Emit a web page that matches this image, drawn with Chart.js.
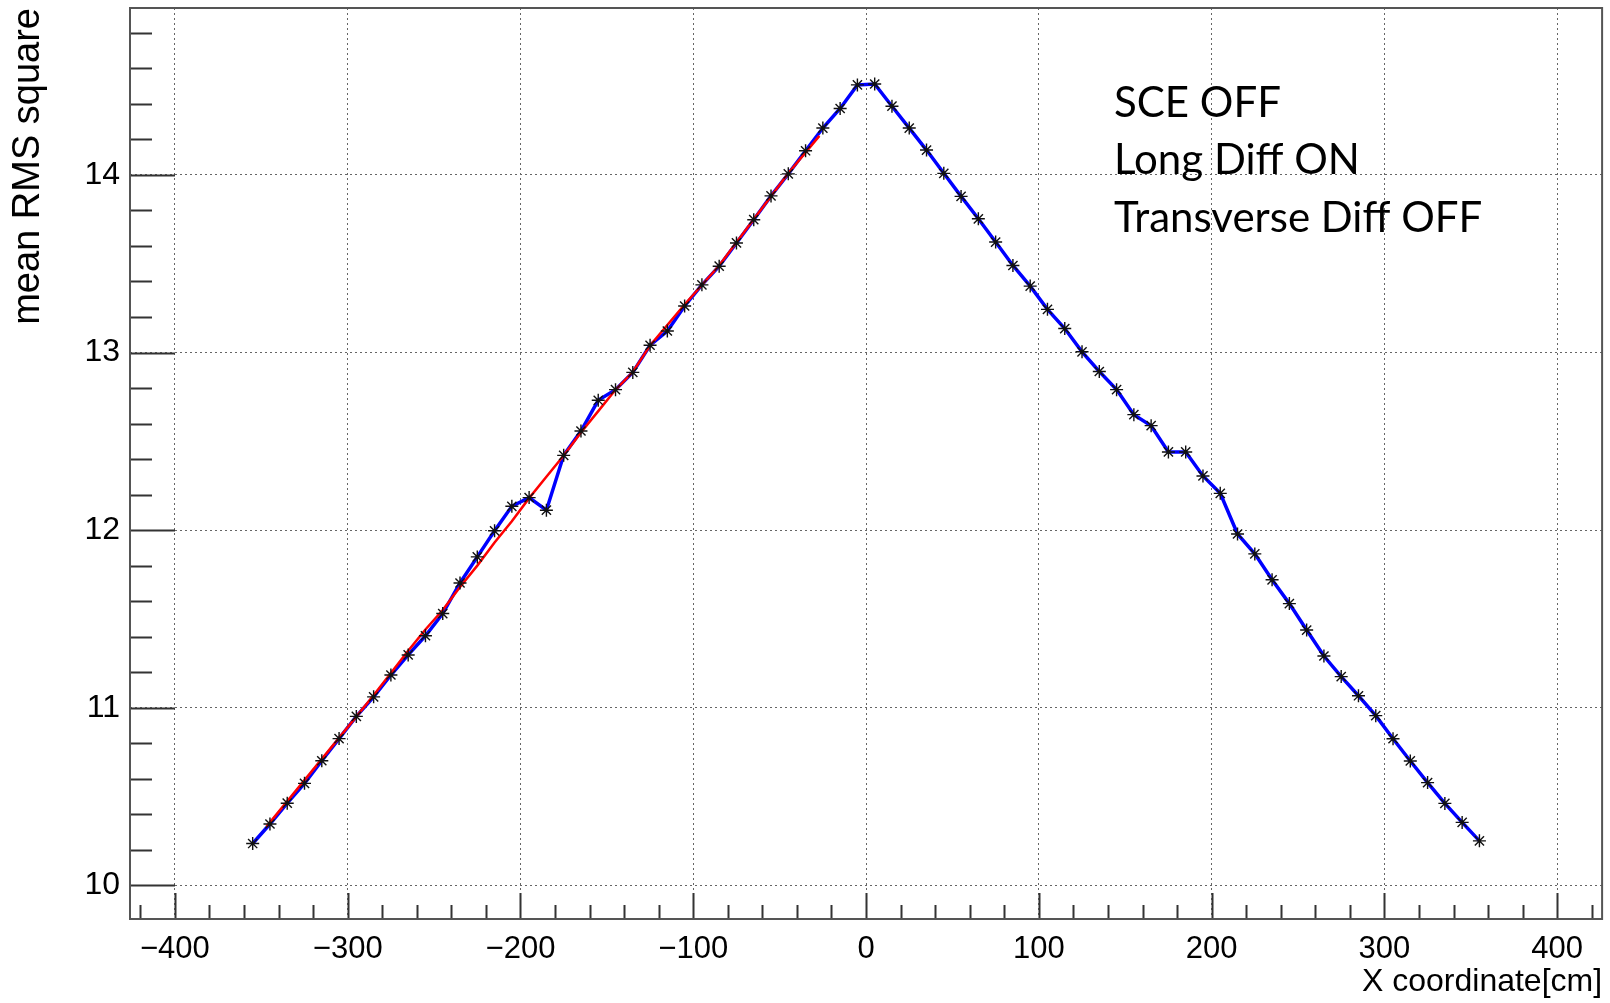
<!DOCTYPE html>
<html>
<head>
<meta charset="utf-8">
<script src="https://cdn.jsdelivr.net/npm/chart.js@4.4.1/dist/chart.umd.min.js"></script>
<style>
  html, body { margin: 0; padding: 0; background: #fff; }
  #chart { display: block; }
</style>
</head>
<body>
<canvas id="chart" width="1610" height="1003"></canvas>
<script>
// measured points (blue, with markers)
const xPositions = [
  -355, -345, -335, -325, -315, -305, -295, -285, -275, -265, -255, -245,
  -235, -225, -215, -205, -195, -185, -175, -165, -155, -145, -135, -125,
  -115, -105, -95, -85, -75, -65, -55, -45, -35, -25, -15, -5,
  5, 15, 25, 35, 45, 55, 65, 75, 85, 95, 105, 115,
  125, 135, 145, 155, 165, 175, 185, 195, 205, 215, 225, 235,
  245, 255, 265, 275, 285, 295, 305, 315, 325, 335, 345, 355
];
const rmsValues = [
  10.235, 10.345, 10.462, 10.574, 10.701, 10.826, 10.951, 11.061, 11.184, 11.297, 11.405, 11.530,
  11.702, 11.849, 11.996, 12.134, 12.183, 12.112, 12.421, 12.558, 12.731, 12.791, 12.888, 13.041,
  13.121, 13.262, 13.381, 13.486, 13.617, 13.748, 13.882, 14.006, 14.136, 14.264, 14.374, 14.507,
  14.512, 14.387, 14.264, 14.140, 14.009, 13.879, 13.753, 13.622, 13.490, 13.374, 13.243, 13.135,
  13.004, 12.893, 12.791, 12.650, 12.588, 12.440, 12.440, 12.305, 12.207, 11.978, 11.866, 11.720,
  11.586, 11.437, 11.291, 11.175, 11.067, 10.955, 10.825, 10.700, 10.578, 10.461, 10.354, 10.250
];

// red reference curve (left half only)
const fitX = [-347, -305, -285, -265, -255, -245, -235, -225, -215, -205, -195, -185,
  -175, -165, -155, -145, -135, -125, -105, -85, -65, -45, -27];
const fitValues = [10.33, 10.83, 11.07, 11.32, 11.44, 11.55, 11.68, 11.80, 11.93, 12.05, 12.18, 12.30,
  12.42, 12.55, 12.67, 12.79, 12.89, 13.04, 13.27, 13.49, 13.75, 14.01, 14.22];

const xTickValues = [-400, -300, -200, -100, 0, 100, 200, 300, 400];
const xTickLabels = ['\u2212400', '\u2212300', '\u2212200', '\u2212100', '0', '100', '200', '300', '400'];
const yTickValues = [10, 11, 12, 13, 14];
const yTickLabels = ['10', '11', '12', '13', '14'];

const infoLines = ['SCE OFF', 'Long Diff ON', 'Transverse Diff OFF'];

const toPoints = (xs, ys) => xs.map((x, i) => ({x, y: ys[i]}));

// ROOT style frame with inside ticks + text box
const rootFrame = {
  id: 'rootFrame',
  afterDraw(chart) {
    const {ctx, chartArea: a, scales: {x, y}} = chart;
    ctx.save();
    ctx.strokeStyle = '#333';
    ctx.lineWidth = 2;
    ctx.beginPath();
    for (let v = -420; v <= 420; v += 20) {
      const px = Math.round(x.getPixelForValue(v)) + 0.5;
      const len = v % 100 === 0 ? 26 : 14;
      ctx.moveTo(px, a.bottom);
      ctx.lineTo(px, a.bottom - len);
    }
    for (let k = 50; k <= 74; k++) {
      const py = Math.round(y.getPixelForValue(k / 5)) + 0.5;
      const len = k % 5 === 0 ? 45 : 22;
      ctx.moveTo(a.left, py);
      ctx.lineTo(a.left + len, py);
    }
    ctx.stroke();

    ctx.strokeStyle = '#555';
    ctx.lineWidth = 2;
    ctx.strokeRect(a.left, a.top, a.right - a.left, a.bottom - a.top);

    ctx.fillStyle = '#000';
    ctx.font = '42px Lato';
    ctx.textBaseline = 'alphabetic';
    const baselines = [117, 174, 232];
    infoLines.forEach((t, i) => ctx.fillText(t, 1114, baselines[i]));
    ctx.restore();
  }
};

// keep tick labels from pushing the plot area around
const noEdgePad = s => {
  s.paddingTop = 0;
  s.paddingBottom = 0;
  s.paddingLeft = 0;
  s.paddingRight = 0;
};

new Chart(document.getElementById('chart'), {
  type: 'line',
  data: {
    datasets: [
      {
        // markers on top
        data: toPoints(xPositions, rmsValues),
        showLine: false,
        pointStyle: 'star',
        pointRadius: 6.5,
        pointBorderWidth: 1.4,
        pointBorderColor: '#111',
        pointBackgroundColor: '#111',
        order: 0
      },
      {
        data: toPoints(fitX, fitValues),
        borderColor: '#ff0000',
        borderWidth: 2.5,
        pointRadius: 0,
        tension: 0,
        order: 1
      },
      {
        data: toPoints(xPositions, rmsValues),
        borderColor: '#0000ff',
        borderWidth: 3.5,
        pointRadius: 0,
        tension: 0,
        order: 2
      }
    ]
  },
  options: {
    responsive: false,
    animation: false,
    devicePixelRatio: 1,
    layout: {padding: {top: 8, right: 3, left: 0, bottom: 0}},
    plugins: {legend: {display: false}, tooltip: {enabled: false}},
    scales: {
      x: {
        type: 'linear',
        min: -426,
        max: 426,
        afterBuildTicks: s => { s.ticks = xTickValues.map(v => ({value: v})); },
        afterFit: s => { s.height = 84; noEdgePad(s); },
        ticks: {
          callback: v => xTickLabels[xTickValues.indexOf(v)],
          font: {family: 'Liberation Sans', size: 31},
          color: '#000',
          padding: 12,
          maxRotation: 0,
          autoSkip: false
        },
        grid: {color: '#666', lineWidth: 1, drawTicks: false},
        border: {display: false, dash: [2, 3]},
        title: {
          display: true,
          text: 'X coordinate[cm]',
          align: 'end',
          color: '#000',
          font: {family: 'Liberation Sans', size: 32},
          padding: {top: 0, bottom: 2}
        }
      },
      y: {
        type: 'linear',
        min: 9.81,
        max: 14.94,
        afterBuildTicks: s => { s.ticks = yTickValues.map(v => ({value: v})); },
        afterFit: s => { s.width = 130; noEdgePad(s); },
        ticks: {
          callback: v => yTickLabels[yTickValues.indexOf(v)],
          font: {family: 'Liberation Sans', size: 32},
          color: '#000',
          padding: 10
        },
        grid: {color: '#666', lineWidth: 1, drawTicks: false},
        border: {display: false, dash: [2, 3]},
        title: {
          display: true,
          text: 'mean RMS square',
          align: 'end',
          color: '#000',
          font: {family: 'Liberation Sans', size: 38},
          padding: {top: 6, bottom: 0}
        }
      }
    }
  },
  plugins: [rootFrame]
});
</script>
</body>
</html>
